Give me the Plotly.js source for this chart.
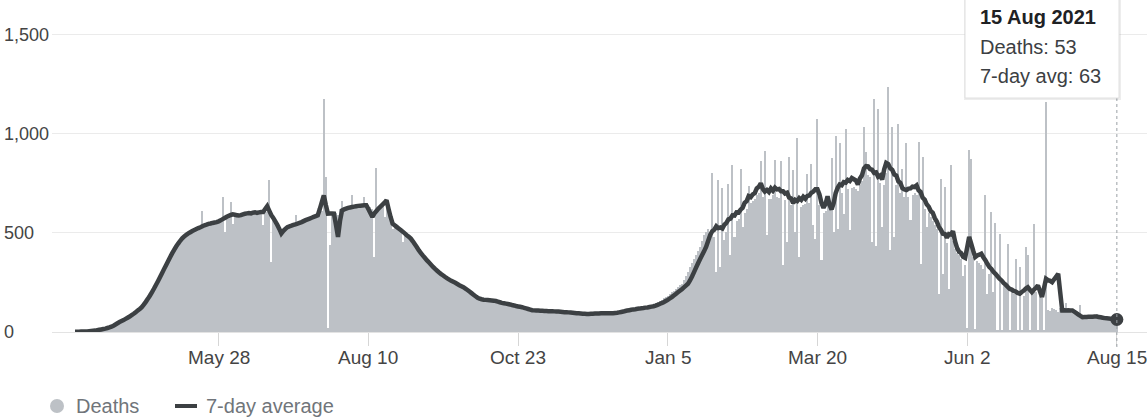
<!DOCTYPE html>
<html><head><meta charset="utf-8">
<script src="https://cdn.plot.ly/plotly-3.0.1.min.js"></script>
<style>html,body{margin:0;padding:0;background:#fff;}#chart{width:1147px;height:419px;}</style>
</head><body><div id="chart"></div>
<script>
// ---- data ----
const startDate = '2020-03-18';
const deaths = [
1,0,2,3,2,4,5,4,7,6,9,10,12,14,
16,19,20,26,27,35,36,46,
52,55,66,65,77,79,90,
95,103,112,118,
130,146,160,182,
198,214,230,250,262,
282,305,320,345,362,
385,400,420,432,452,
470,476,488,494,500,
510,506,520,526,534,530,
612,545,540,552,548,555,560,
556,562,570,681,504,586,590,
655,547,598,590,592,
585,600,598,605,
608,590,610,612,598,608,612,
540,612,605,765,
353,580,570,548,530,
505,515,525,
535,530,545,548,590,
550,556,562,565,570,575,
575,580,585,590,
600,605,610,
1173,782,
18,437,600,
605,598,
590,620,
660,625,630,628,632,
690,630,640,635,645,640,680,
645,640,630,
620,378,829,
630,640,645,580,
660,610,590,
520,530,520,512,505,
455,490,480,472,
462,448,432,418,402,
388,378,366,355,344,332,
322,314,305,296,288,280,272,
266,260,255,250,245,238,233,228,
222,214,207,200,193,186,178,172,
167,166,164,163,161,160,159,
157,154,151,148,145,143,140,
137,135,132,130,128,125,
123,120,117,115,112,110,
108,108,107,107,106,106,105,105,104,
104,104,103,102,102,101,100,100,
99,98,97,96,94,93,92,
92,91,91,92,92,
93,93,94,94,94,95,95,95,96,96,96,
96,98,100,102,104,107,109,111,
113,115,116,118,119,121,122,124,125,127,128,130,
141,146,150,157,163,170,177,184,192,200,209,217,226,235,243,262,284,305,327,348,368,388,408,428,460,490,505,518,
470,802,480,302,768,327,728,462,505,745,
386,841,479,560,570,824,529,600,620,735,
650,660,670,690,700,863,680,913,487,670,
673,690,866,680,675,863,336,665,454,880,
640,819,504,976,378,630,640,645,799,650,
846,538,471,1072,640,361,600,610,640,620,
875,504,987,521,953,700,597,1026,720,512,
725,730,720,710,740,760,1034,908,790,780,
454,1173,432,1122,750,529,740,800,1233,415,
1034,479,740,1051,700,824,680,953,680,563,
690,700,690,960,344,883,620,529,600,580,
560,540,520,193,771,294,731,450,218,841,
460,420,400,390,370,280,340,20,920,870,
380,15,360,350,340,320,689,193,290,605,
200,550,12,496,10,240,230,442,8,200,
190,370,10,327,8,180,428,386,10,190,
543,200,8,180,170,10,1160,110,105,120,
115,110,100,120,110,105,146,100,108,95,
100,90,85,134,75,72,78,74,76,78,
80,92,75,70,68,66,70,66,65,62,
60,53
];
const avg7 = [
1,1,1,2,2,3,3,4,5,6,7,9,11,13,
15,17,20,23,27,32,38,44,
50,55,60,66,72,78,85,92,100,108,116,
125,138,152,167,183,200,218,237,256,276,296,317,337,357,377,396,414,431,446,460,472,482,490,497,503,509,514,519,524,528,
533,538,541,545,547,550,552,554,558,563,569,575,581,586,
590,593,591,589,587,589,593,596,598,600,598,602,604,601,603,605,
605,620,634,612,590,575,558,540,520,497,510,520,
529,533,536,540,543,546,550,554,559,564,568,572,576,580,584,588,620,655,
689,640,597,598,598,597,540,479,560,
613,618,622,626,628,630,632,634,636,637,638,639,639,620,600,580,598,610,622,632,642,652,664,620,580,
546,538,530,522,514,506,497,488,480,471,457,442,427,411,
398,385,373,361,350,339,328,318,309,300,292,285,277,270,264,258,253,248,242,236,231,226,219,212,204,196,188,180,173,
168,165,163,162,161,160,159,158,156,153,150,147,145,143,141,139,136,134,131,129,127,125,122,119,116,113,
110,109,108,108,107,107,106,106,105,105,105,104,103,103,102,101,100,100,99,98,97,96,95,94,93,92,92,91,91,
92,92,93,93,93,94,94,94,95,95,95,95,96,97,99,101,103,106,108,110,112,114,115,117,118,120,121,123,124,126,128,
130,133,137,141,146,150,156,162,169,176,184,192,200,208,216,225,234,243,260,280,302,325,347,368,388,408,430,460,
490,508,516,533,524,527,522,541,550,568,572,588,587,603,602,617,626,651,660,685,680,694,700,724,732,750,722,
708,716,706,724,712,728,719,721,710,710,698,702,678,673,650,666,660,675,666,682,672,686,688,702,708,720,720,694,650,626,646,684,640,618,650,700,
727,744,740,756,753,767,761,776,770,764,744,774,790,825,836,835,821,818,802,805,783,789,769,820,853,847,825,817,794,789,760,752,725,
719,716,723,724,733,731,739,714,706,677,668,644,632,610,601,574,557,531,516,496,494,475,494,492,508,458,424,405,398,379,374,
425,479,445,410,378,386,390,395,377,362,344,327,318,303,293,281,269,260,247,239,228,218,214,207,204,197,193,202,209,219,226,213,201,213,223,235,205,176,222,269,262,258,251,266,279,294,200,
109,110,108,110,109,109,102,95,88,81,75,76,76,77,77,77,78,78,76,74,72,70,69,68,67,66,65,63
];
const xTickDates = ['2020-05-28','2020-08-10','2020-10-23','2021-01-05','2021-03-20','2021-06-02','2021-08-15'];
const xTickLabels = ['May 28','Aug 10','Oct 23','Jan 5','Mar 20','Jun 2','Aug 15'];
const yTickVals = [0, 500, 1000, 1500];
const yTickLabels = ['0', '500', '1,000', '1,500'];
const seriesNames = ['Deaths', '7-day average'];
const tooltipTitle = '15 Aug 2021';

// ---- build ----
const DAY = 86400000;
const t0 = Date.parse(startDate + 'T00:00:00Z');
const iso = ms => new Date(ms).toISOString().replace('T', ' ').slice(0, 19);
const dates = deaths.map((_, i) => iso(t0 + i * DAY).slice(0, 10));
const avgDates = avg7.map((_, i) => iso(t0 + i * DAY).slice(0, 10));
const lastIdx = deaths.length - 1;
const lastDate = dates[lastIdx];

const W = 1147, H = 419, L = 52, R = 0, T = 0, B = 87;
const PW = W - L - R, PH = H - T - B;
const px = x => (x - L) / PW;           // pixel -> paper x
const py = y => (H - B - y) / PH;        // pixel -> paper y

const pxPerDay = 2.023;
const xr0 = iso(t0 - (75 - L) / pxPerDay * DAY);
const xr1 = iso(t0 + (W - R - 75) / pxPerDay * DAY);

const FONT = '"Liberation Sans", Arial, Helvetica, sans-serif';
const GREY = '#bdc1c6', DARK = '#3c4043';

const traces = [
  {type: 'bar', x: dates, y: deaths, marker: {color: GREY, line: {width: 0}}, hoverinfo: 'skip', name: seriesNames[0]},
  {type: 'scatter', mode: 'lines', x: avgDates, y: avg7, line: {color: DARK, width: 4.5, simplify: false}, hoverinfo: 'skip', name: seriesNames[1]},
  {type: 'scatter', mode: 'markers', x: [avgDates[avg7.length - 1]], y: [avg7[avg7.length - 1]], marker: {color: DARK, size: 13}, cliponaxis: false, hoverinfo: 'skip'}
];

const annotations = yTickVals.map((v, i) => ({
  xref: 'paper', yref: 'y', x: px(2), y: v, xanchor: 'left', yanchor: 'middle',
  text: yTickLabels[i], showarrow: false, font: {family: FONT, size: 18, color: '#444'}
}));
xTickDates.forEach((d, i) => annotations.push({
  xref: 'x', yref: 'paper', x: d, y: py(357), xanchor: 'center', yanchor: 'middle',
  text: xTickLabels[i], showarrow: false, font: {family: FONT, size: 19, color: '#444'}
}));
// tooltip text
annotations.push(
  {xref: 'paper', yref: 'paper', x: px(978), y: py(17), xanchor: 'left', yanchor: 'middle', showarrow: false,
   text: '<b>' + tooltipTitle + '</b>', font: {family: FONT, size: 20, color: '#202124'}},
  {xref: 'paper', yref: 'paper', x: px(978), y: py(47), xanchor: 'left', yanchor: 'middle', showarrow: false,
   text: 'Deaths: ' + deaths[lastIdx], font: {family: FONT, size: 20, color: '#3c4043'}},
  {xref: 'paper', yref: 'paper', x: px(978), y: py(76), xanchor: 'left', yanchor: 'middle', showarrow: false,
   text: '7-day avg: ' + avg7[avg7.length - 1], font: {family: FONT, size: 20, color: '#3c4043'}}
);
// legend text
annotations.push(
  {xref: 'paper', yref: 'paper', x: px(74), y: py(406), xanchor: 'left', yanchor: 'middle', showarrow: false,
   text: seriesNames[0], font: {family: FONT, size: 20, color: '#70757a'}},
  {xref: 'paper', yref: 'paper', x: px(204), y: py(406), xanchor: 'left', yanchor: 'middle', showarrow: false,
   text: seriesNames[1], font: {family: FONT, size: 20, color: '#70757a'}}
);

const shapes = [
  // dotted hover line
  {type: 'line', xref: 'x', yref: 'paper', x0: lastDate, x1: lastDate, y0: py(347), y1: py(98),
   line: {color: '#9aa0a6', width: 1, dash: 'dot'}, layer: 'above'},
  // tooltip shadow + box
  {type: 'rect', xref: 'paper', yref: 'paper', x0: px(964), x1: px(1121), y0: py(100), y1: py(-6),
   fillcolor: 'rgba(0,0,0,0.07)', line: {width: 0}, layer: 'above'},
  {type: 'rect', xref: 'paper', yref: 'paper', x0: px(965), x1: px(1119), y0: py(98), y1: py(-6),
   fillcolor: '#ffffff', line: {color: '#e0e0e0', width: 1}, layer: 'above'},
  // legend symbols
  {type: 'circle', xref: 'paper', yref: 'paper', x0: px(50), x1: px(64), y0: py(413), y1: py(399),
   fillcolor: GREY, line: {width: 0}},
  {type: 'line', xref: 'paper', yref: 'paper', x0: px(175), x1: px(197), y0: py(406), y1: py(406),
   line: {color: DARK, width: 4}}
];

const layout = {
  width: W, height: H,
  margin: {l: L, r: R, t: T, b: B, pad: 0},
  paper_bgcolor: '#fff', plot_bgcolor: '#fff',
  showlegend: false, hovermode: false,
  bargap: 0,
  font: {family: FONT, color: '#444'},
  xaxis: {
    type: 'date', range: [xr0, xr1],
    tickmode: 'array', tickvals: xTickDates, showticklabels: false,
    ticks: 'outside', ticklen: 13, tickwidth: 1, tickcolor: '#d6d6d6',
    showgrid: false, zeroline: false, showline: false, fixedrange: true
  },
  yaxis: {
    range: [0, 1674], tickmode: 'array', tickvals: yTickVals, showticklabels: false,
    showgrid: true, gridcolor: '#ebebeb', gridwidth: 1,
    zeroline: true, zerolinecolor: '#e3e3e3', zerolinewidth: 1, fixedrange: true
  },
  shapes: shapes, annotations: annotations
};

Plotly.newPlot('chart', traces, layout, {displayModeBar: false, staticPlot: true});
</script></body></html>
